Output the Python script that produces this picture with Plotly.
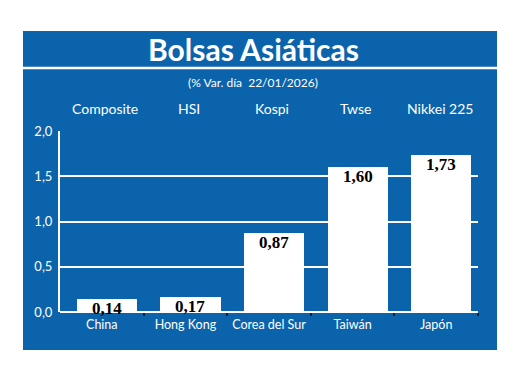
import plotly.graph_objects as go

countries = ["China", "Hong Kong", "Corea del Sur", "Taiwán", "Japón"]
indices = ["Composite", "HSI", "Kospi", "Twse", "Nikkei 225"]
values = [0.14, 0.17, 0.87, 1.60, 1.73]
value_labels = ["0,14", "0,17", "0,87", "1,60", "1,73"]
y_ticks = [0, 0.5, 1.0, 1.5, 2.0]
y_tick_labels = ["0,0", "0,5", "1,0", "1,5", "2,0"]

W, H = 520, 375
BLUE = "#0b64ab"
pos = list(range(len(countries)))

def px(x):
    return x / W

def py(y):
    return 1 - y / H

fig = go.Figure()
fig.add_trace(go.Bar(
    x=pos, y=values, width=0.72, offset=-0.3,
    marker=dict(color="white", line=dict(width=0)),
    hoverinfo="skip",
))

annotations = []
for i, (v, t) in enumerate(zip(values, value_labels)):
    annotations.append(dict(
        x=i + 0.06, y=v, xref="x", yref="y", text=t, showarrow=False,
        yanchor="top", yshift=2,
        font=dict(family="Liberation Serif", size=17, color="black", weight="bold"),
    ))
for i, t in enumerate(indices):
    annotations.append(dict(
        x=i + 0.04, y=py(108), xref="x", yref="paper", text=t, showarrow=False,
        yanchor="middle", font=dict(family="Lato", size=14, color="white"),
    ))
annotations.append(dict(
    x=px(253), y=py(49), xref="paper", yref="paper", text="<b>Bolsas Asiáticas</b>",
    showarrow=False, yanchor="middle", xanchor="center",
    font=dict(family="Lato", size=30, color="white"),
))
annotations.append(dict(
    x=px(253), y=py(82), xref="paper", yref="paper", text="(% Var. día  22/01/2026)",
    showarrow=False, yanchor="middle", xanchor="center",
    font=dict(family="Lato", size=12, color="white"),
))

shapes = [
    dict(type="rect", xref="paper", yref="paper", x0=px(23), x1=px(497),
         y0=py(350), y1=py(31), fillcolor=BLUE, line=dict(width=0), layer="below"),
    dict(type="line", xref="paper", yref="paper", x0=px(23), x1=px(497),
         y0=py(68), y1=py(68), line=dict(color="white", width=2.5), layer="below"),
]

fig.update_layout(
    width=W, height=H,
    margin=dict(l=0, r=0, t=0, b=0, pad=0, autoexpand=False),
    paper_bgcolor="white", plot_bgcolor="rgba(0,0,0,0)",
    showlegend=False, bargap=0,
    annotations=annotations, shapes=shapes,
    xaxis=dict(
        domain=[px(60), px(478)], range=[-0.5, 4.5], automargin=False,
        tickmode="array", tickvals=pos, ticktext=countries,
        ticks="", showgrid=False, zeroline=False, showline=False,
        ticklabelstandoff=3,
        tickfont=dict(family="Lato", size=12.5, color="white"),
        minor=dict(tickmode="array", tickvals=[0.5, 1.5, 2.5, 3.5, 4.5],
                   ticks="outside", ticklen=3, tickwidth=2, tickcolor="#1a1a2a",
                   showgrid=False),
        fixedrange=True,
    ),
    yaxis=dict(
        domain=[py(312), py(131)], range=[0, 2.0], automargin=False,
        tickmode="array", tickvals=y_ticks, ticktext=y_tick_labels,
        showgrid=True, gridcolor="white", gridwidth=2,
        zeroline=True, zerolinecolor="white", zerolinewidth=2,
        showline=True, linecolor="white", linewidth=2,
        ticks="", ticklabelstandoff=3,
        tickfont=dict(family="Lato", size=13, color="white"),
        fixedrange=True,
    ),
)

fig.write_html("out.html")
